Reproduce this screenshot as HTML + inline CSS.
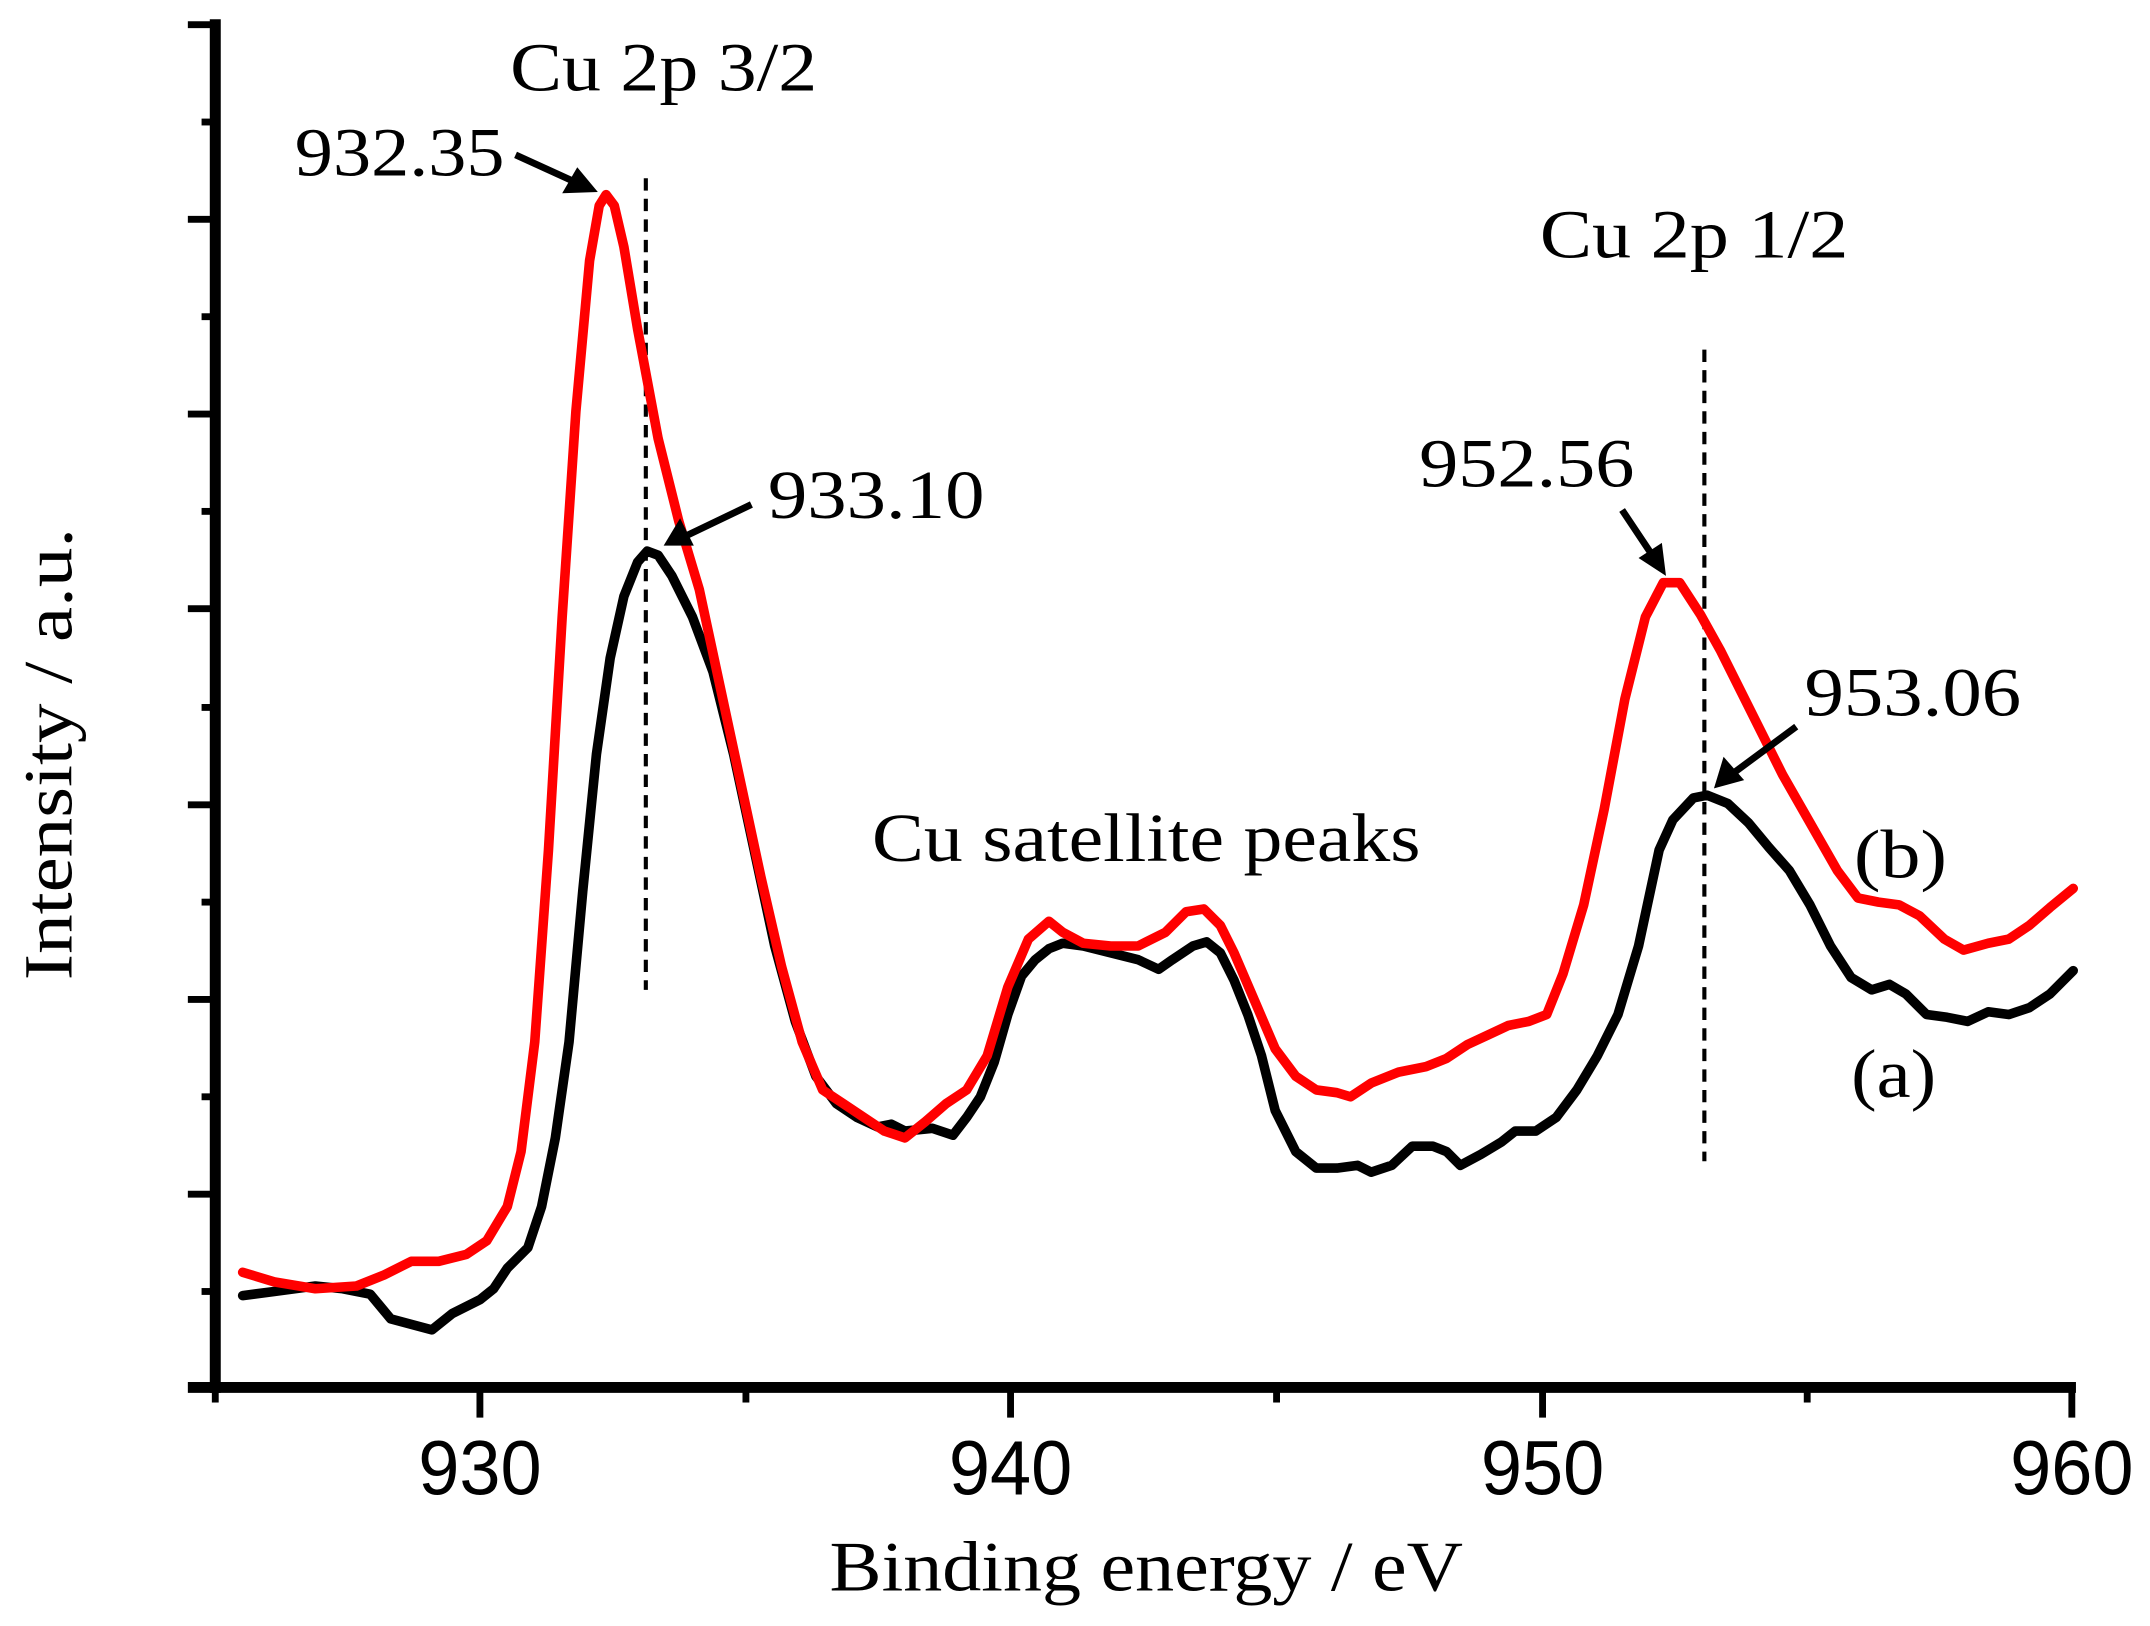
<!DOCTYPE html>
<html><head><style>html,body{margin:0;padding:0;background:#fff;}svg{display:block}</style></head>
<body>
<svg width="2150" height="1626" viewBox="0 0 1568 1186" preserveAspectRatio="none" xmlns="http://www.w3.org/2000/svg">
<g stroke="#000" stroke-width="8" fill="none">
<line x1="157" y1="14" x2="157" y2="1016"/>
<line x1="137" y1="1012" x2="1514" y2="1012"/>
</g>
<g stroke="#000" stroke-width="5">
<line x1="137" y1="18" x2="157" y2="18"/>
<line x1="137" y1="160" x2="157" y2="160"/>
<line x1="137" y1="302" x2="157" y2="302"/>
<line x1="137" y1="444" x2="157" y2="444"/>
<line x1="137" y1="587" x2="157" y2="587"/>
<line x1="137" y1="729" x2="157" y2="729"/>
<line x1="137" y1="871" x2="157" y2="871"/>
<line x1="147" y1="89" x2="157" y2="89"/>
<line x1="147" y1="231" x2="157" y2="231"/>
<line x1="147" y1="373" x2="157" y2="373"/>
<line x1="147" y1="516" x2="157" y2="516"/>
<line x1="147" y1="658" x2="157" y2="658"/>
<line x1="147" y1="800" x2="157" y2="800"/>
<line x1="147" y1="942" x2="157" y2="942"/>
<line x1="157" y1="1012" x2="157" y2="1023"/>
<line x1="350" y1="1012" x2="350" y2="1034"/>
<line x1="544" y1="1012" x2="544" y2="1023"/>
<line x1="737" y1="1012" x2="737" y2="1034"/>
<line x1="931" y1="1012" x2="931" y2="1023"/>
<line x1="1125" y1="1012" x2="1125" y2="1034"/>
<line x1="1318" y1="1012" x2="1318" y2="1023"/>
<line x1="1511" y1="1012" x2="1511" y2="1034"/>
</g>
<g font-family="'Liberation Sans',sans-serif" font-size="56" text-anchor="middle">
<text x="350" y="1090" textLength="90" lengthAdjust="spacingAndGlyphs">930</text>
<text x="737" y="1090" textLength="90" lengthAdjust="spacingAndGlyphs">940</text>
<text x="1125" y="1090" textLength="90" lengthAdjust="spacingAndGlyphs">950</text>
<text x="1511" y="1090" textLength="90" lengthAdjust="spacingAndGlyphs">960</text>
</g>
<g font-family="'Liberation Serif',serif" fill="#000">
<text x="605" y="1160" font-size="52" textLength="462" lengthAdjust="spacingAndGlyphs">Binding energy / eV</text>
<text transform="translate(52,715) rotate(-90)" font-size="50" textLength="330" lengthAdjust="spacingAndGlyphs">Intensity / a.u.</text>
<text x="372" y="66" font-size="50" textLength="224" lengthAdjust="spacingAndGlyphs">Cu 2p 3/2</text>
<text x="215" y="128" font-size="50" textLength="153" lengthAdjust="spacingAndGlyphs">932.35</text>
<text x="560" y="378" font-size="50" textLength="158" lengthAdjust="spacingAndGlyphs">933.10</text>
<text x="1123" y="188" font-size="50" textLength="225" lengthAdjust="spacingAndGlyphs">Cu 2p 1/2</text>
<text x="1035" y="355" font-size="50" textLength="157" lengthAdjust="spacingAndGlyphs">952.56</text>
<text x="1316" y="522" font-size="50" textLength="158" lengthAdjust="spacingAndGlyphs">953.06</text>
<text x="636" y="628" font-size="50" textLength="400" lengthAdjust="spacingAndGlyphs">Cu satellite peaks</text>
<text x="1352" y="640" font-size="50" textLength="68" lengthAdjust="spacingAndGlyphs">(b)</text>
<text x="1350" y="800" font-size="50" textLength="62" lengthAdjust="spacingAndGlyphs">(a)</text>
</g>
<g stroke="#000" stroke-width="3" stroke-dasharray="9,6">
<line x1="471" y1="130" x2="471" y2="722"/>
<line x1="1243" y1="255" x2="1243" y2="847"/>
</g>
<polyline fill="none" stroke="#000" stroke-width="7" stroke-linejoin="round" stroke-linecap="round" points="177,945 200,942 230,938 250,940 270,944 285,962 300,966 315,970 330,958 350,948 360,940 370,925 385,910 395,880 405,830 415,760 425,650 435,550 445,480 455,435 465,410 472,402 480,405 490,420 505,450 520,490 535,550 550,620 565,690 580,745 595,785 610,805 625,815 640,822 650,820 660,825 680,823 695,828 705,815 715,800 725,775 735,740 745,712 755,700 765,692 775,688 790,690 810,695 830,700 845,707 855,700 870,690 880,687 890,695 900,715 910,740 920,770 930,810 945,840 960,852 975,852 990,850 1000,855 1015,850 1030,836 1045,836 1055,840 1065,850 1080,842 1095,833 1105,825 1120,825 1135,815 1150,795 1165,770 1180,740 1195,690 1210,620 1220,598 1235,582 1245,580 1260,586 1275,600 1290,618 1305,635 1320,660 1335,690 1350,713 1365,722 1378,718 1390,725 1405,740 1420,742 1435,745 1450,738 1465,740 1480,735 1495,725 1512,708"/>
<polyline fill="none" stroke="#f00" stroke-width="7" stroke-linejoin="round" stroke-linecap="round" points="177,928 200,935 230,940 260,938 280,930 300,920 320,920 340,915 355,905 370,880 380,840 390,760 400,620 410,450 420,300 430,190 437,150 442,142 448,150 455,180 465,240 480,320 495,380 510,430 525,500 540,570 555,640 570,705 585,760 600,795 615,805 630,815 645,825 660,830 675,818 690,805 705,795 720,770 735,720 750,685 765,672 775,680 790,688 810,690 830,690 850,680 865,665 878,663 890,675 900,695 915,730 930,765 945,785 960,795 975,797 985,800 1000,790 1020,782 1040,778 1055,772 1070,762 1085,755 1100,748 1115,745 1128,740 1140,710 1155,660 1170,590 1185,510 1200,450 1213,425 1225,425 1240,448 1255,475 1270,505 1285,535 1300,565 1320,600 1340,635 1355,655 1370,658 1385,660 1400,668 1418,685 1432,693 1450,688 1465,685 1480,675 1495,662 1512,648"/>
<g stroke="#000" stroke-width="5">
<line x1="376" y1="113" x2="420" y2="133"/>
<line x1="548" y1="368" x2="500" y2="391"/>
<line x1="1183" y1="372" x2="1205" y2="405"/>
<line x1="1310" y1="530" x2="1264" y2="564"/>
</g>
<g fill="#000">
<polygon points="436,140 410,141 421,122"/>
<polygon points="484,398 496,378 506,398"/>
<polygon points="1215,420 1195,407 1212,396"/>
<polygon points="1250,575 1257,552 1272,569"/>
</g>
</svg>
</body></html>
